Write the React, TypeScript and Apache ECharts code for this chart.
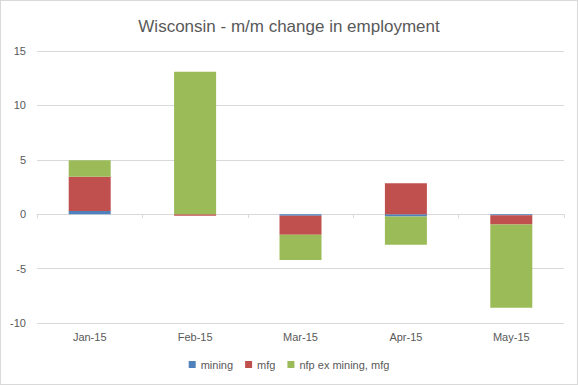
import React, { useEffect, useRef } from "react";
import * as echarts from "echarts";

const categories = ["Jan-15", "Feb-15", "Mar-15", "Apr-15", "May-15"];
const mining = [0.3, 0, -0.15, -0.2, -0.1];
const mfg = [3.15, -0.15, -1.75, 2.85, -0.85];
const nfpExMiningMfg = [1.5, 13.1, -2.3, -2.6, -7.65];
const yTicks = { min: -10, max: 15, interval: 5 };

const FONT = "'Liberation Sans', Arial, sans-serif";
const TEXT = "#595959";
const GRID = "#d9d9d9";

export default function App() {
  const ref = useRef<HTMLDivElement>(null);
  useEffect(() => {
    if (!ref.current) return;
    const chart = echarts.init(ref.current, undefined, { renderer: "svg" });
    chart.setOption({
      animation: false,
      backgroundColor: "#ffffff",
      textStyle: { fontFamily: FONT },
      title: {
        text: "Wisconsin - m/m change in employment",
        left: "center",
        top: 12,
        textStyle: { fontFamily: FONT, fontSize: 17, fontWeight: "normal", color: TEXT },
      },
      legend: {
        bottom: 9,
        left: "center",
        itemWidth: 7,
        itemHeight: 7,
        itemGap: 12,
        icon: "rect",
        textStyle: { fontFamily: FONT, fontSize: 11, color: TEXT },
        data: ["mining", "mfg", "nfp ex mining, mfg"],
      },
      grid: { left: 36, top: 50, width: 527, height: 272, containLabel: false },
      xAxis: [
        {
          type: "category",
          data: categories,
          position: "bottom",
          axisLine: { show: false, onZero: false },
          axisTick: { show: false },
          axisLabel: { color: TEXT, fontSize: 11, fontFamily: FONT, margin: 8 },
        },
        {
          type: "category",
          data: categories,
          position: "bottom",
          axisLine: { show: true, onZero: true, lineStyle: { color: GRID, width: 1 } },
          axisTick: { show: true, length: 4, lineStyle: { color: GRID } },
          axisLabel: { show: false },
        },
      ],
      yAxis: {
        type: "value",
        min: yTicks.min,
        max: yTicks.max,
        interval: yTicks.interval,
        axisLine: { show: false },
        axisTick: { show: false },
        splitLine: { lineStyle: { color: GRID, width: 1 } },
        axisLabel: { color: TEXT, fontSize: 11, fontFamily: FONT, margin: 11 },
      },
      series: [
        { name: "mining", type: "bar", stack: "s", data: mining, barWidth: 42, itemStyle: { color: "#4f81bd" } },
        { name: "mfg", type: "bar", stack: "s", data: mfg, barWidth: 42, itemStyle: { color: "#c0504d" } },
        { name: "nfp ex mining, mfg", type: "bar", stack: "s", data: nfpExMiningMfg, barWidth: 42, itemStyle: { color: "#9bbb59" } },
      ],
    });
    return () => chart.dispose();
  }, []);
  return (
    <div
      style={{
        position: "fixed",
        left: 0,
        top: 0,
        width: 578,
        height: 385,
        boxSizing: "border-box",
        border: "1px solid #d9d9d9",
        background: "#fff",
      }}
    >
      <div ref={ref} style={{ width: 576, height: 383 }} />
    </div>
  );
}
